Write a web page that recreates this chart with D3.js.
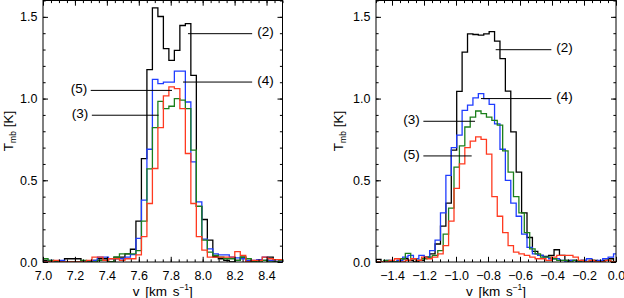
<!DOCTYPE html>
<html><head><meta charset="utf-8">
<script src="https://cdn.jsdelivr.net/npm/d3@7"></script>
<style>
body{margin:0;background:#fff;}
svg text{font-family:"Liberation Sans",Arial,Helvetica,sans-serif;fill:#000;}
</style></head><body>
<svg id="c" width="624" height="298"></svg>
<script>
// ---------- DATA ----------
// Left panel: channel centres (km/s)
const velLeft = [6.9800,7.0144,7.0488,7.0832,7.1176,7.1520,7.1864,7.2208,7.2552,7.2896,7.3240,7.3584,7.3928,7.4272,7.4616,7.4960,7.5304,7.5648,7.5992,7.6336,7.6680,7.7024,7.7368,7.7712,7.8056,7.8400,7.8744,7.9088,7.9432,7.9776,8.0120,8.0464,8.0808,8.1152,8.1496,8.1840,8.2184,8.2528,8.2872,8.3216,8.3560,8.3904,8.4248,8.4592,8.4936,8.5280];
const leftT2 = [0.01,0.01,0.0,0.0,0.0,0.02,0.02,0.02,0.0,0.0,0.01,0.02,0.02,0.0,0.03,0.03,0.05,0.078,0.25,0.633,1.177,1.555,1.502,1.305,1.234,1.295,1.447,1.458,1.142,0.34,0.26,0.134,0.032,0.02,0.01,0.0,0.01,0.03,0.0,0.0,0.01,0.01,0.03,0.0,0.01,0.01];
const leftT4 = [0.0,0.0,0.01,0.0,0.01,0.0,0.0,0.0,0.0,0.0,0.01,0.03,0.03,0.02,0.02,0.02,0.03,0.045,0.145,0.379,0.69,1.118,1.091,1.10,1.10,1.168,1.168,0.979,0.613,0.368,0.14,0.08,0.05,0.043,0.043,0.03,0.025,0.02,0.01,0.01,0.015,0.03,0.01,0.005,0.0,0.0];
const leftT3 = [0.02,0.02,0.01,0.0,0.0,0.0,0.0,0.0,0.01,0.0,0.0,0.01,0.01,0.0,0.03,0.05,0.05,0.05,0.07,0.25,0.57,0.822,0.983,0.938,0.953,1.0,0.99,0.938,0.684,0.34,0.134,0.06,0.04,0.03,0.02,0.02,0.01,0.03,0.02,0.0,0.0,0.01,0.0,0.0,0.01,0.0];
const leftT5 = [0.0,0.0,0.0,0.01,0.0,0.0,0.0,0.0,0.0,0.01,0.03,0.03,0.01,0.02,0.02,0.01,0.02,0.02,0.043,0.155,0.358,0.572,0.822,1.016,1.071,1.061,0.939,0.664,0.358,0.155,0.073,0.03,0.03,0.03,0.03,0.03,0.063,0.04,0.0,0.01,0.01,0.03,0.02,0.015,0.015,0.01];

// Right panel: channel centres (km/s); grid A for (2),(4); grid B for (3),(5)
const velRightA = [-1.5195,-1.4857,-1.4519,-1.4181,-1.3843,-1.3505,-1.3167,-1.2829,-1.2491,-1.2153,-1.1815,-1.1477,-1.1139,-1.0801,-1.0463,-1.0125,-0.9787,-0.9449,-0.9111,-0.8773,-0.8435,-0.8097,-0.7759,-0.7421,-0.7083,-0.6745,-0.6407,-0.6069,-0.5731,-0.5393,-0.5055,-0.4717,-0.4379,-0.4041,-0.3703,-0.3365,-0.3027,-0.2689,-0.2351,-0.2013,-0.1675,-0.1337,-0.0999,-0.0661,-0.0323,0.0015];
const velRightB = [-1.5026,-1.4688,-1.4350,-1.4012,-1.3674,-1.3336,-1.2998,-1.2660,-1.2322,-1.1984,-1.1646,-1.1308,-1.0970,-1.0632,-1.0294,-0.9956,-0.9618,-0.9280,-0.8942,-0.8604,-0.8266,-0.7928,-0.7590,-0.7252,-0.6914,-0.6576,-0.6238,-0.5900,-0.5562,-0.5224,-0.4886,-0.4548,-0.4210,-0.3872,-0.3534,-0.3196,-0.2858,-0.2520,-0.2182,-0.1844,-0.1506,-0.1168,-0.0830,-0.0492,-0.0154,0.0184];
const rightT2 = [0.01,0.016,0.0,0.0,0.0,0.01,0.02,0.01,0.0,0.01,0.03,0.05,0.11,0.22,0.36,0.684,1.044,1.284,1.396,1.392,1.388,1.396,1.41,1.351,1.244,1.046,0.796,0.55,0.30,0.15,0.065,0.04,0.035,0.04,0.075,0.04,0.01,0.01,0.0,0.01,0.0,0.01,0.0,0.01,0.02,0.0];
const rightT4 = [0.0,0.0,0.0,0.01,0.0,0.01,0.03,0.04,0.02,0.04,0.03,0.07,0.134,0.30,0.53,0.70,0.776,0.928,0.96,1.004,1.03,1.0,0.965,0.845,0.69,0.50,0.36,0.28,0.17,0.09,0.05,0.04,0.03,0.02,0.02,0.01,0.0,0.01,0.0,0.01,0.02,0.0,0.01,0.02,0.03,0.05];
const rightT3 = [0.0,0.0,0.01,0.0,0.0,0.02,0.053,0.02,0.01,0.02,0.03,0.04,0.07,0.17,0.33,0.58,0.71,0.826,0.887,0.924,0.908,0.887,0.867,0.837,0.68,0.55,0.40,0.30,0.18,0.08,0.05,0.03,0.03,0.02,0.01,0.01,0.0,0.01,0.0,0.0,0.01,0.0,0.0,0.01,0.0,0.0];
const rightT5 = [0.0,0.0,0.0,0.01,0.02,0.0,0.01,0.02,0.01,0.03,0.02,0.03,0.05,0.10,0.25,0.45,0.60,0.70,0.74,0.765,0.75,0.66,0.40,0.28,0.18,0.10,0.06,0.05,0.04,0.03,0.02,0.02,0.01,0.03,0.04,0.04,0.04,0.03,0.01,0.0,0.01,0.0,0.0,0.01,0.0,0.0];

// Tick values / labels
const leftXTicks = [7.0,7.2,7.4,7.6,7.8,8.0,8.2,8.4];
const rightXTicks = [-1.4,-1.2,-1.0,-0.8,-0.6,-0.4,-0.2,0.0];
const yTicks = [0.0,0.5,1.0,1.5];

// Annotations (label, line start v, line end v, line T, label side)
const leftNotes = [
  {label:"(2)", v1:7.908, v2:8.310, t:1.397, side:"right"},
  {label:"(4)", v1:7.877, v2:8.310, t:1.101, side:"right"},
  {label:"(5)", v1:7.299, v2:7.808, t:1.050, side:"left"},
  {label:"(3)", v1:7.306, v2:7.724, t:0.898, side:"left"}
];
const rightNotes = [
  {label:"(2)", v1:-0.752, v2:-0.404, t:1.299, side:"right"},
  {label:"(4)", v1:-0.844, v2:-0.404, t:1.000, side:"right"},
  {label:"(3)", v1:-1.204, v2:-0.881, t:0.861, side:"left"},
  {label:"(5)", v1:-1.204, v2:-0.902, t:0.649, side:"left"}
];

// ---------- STYLE / LAYOUT ----------
const colors = {"(2)":"#000000","(4)":"#1f3cff","(3)":"#1b7f1b","(5)":"#ff3a20"};
const plotTop = 0.5, plotBottom = 262;
const yDomain = [0, 1.6];

const panels = [
  {id:"L", x0:43, x1:282.5, xdom:[7.0,8.5], xticks:leftXTicks, minorStep:0.05, ytitleX:8,
   series:[{n:"(2)",v:velLeft,t:leftT2},{n:"(4)",v:velLeft,t:leftT4},{n:"(3)",v:velLeft,t:leftT3},{n:"(5)",v:velLeft,t:leftT5}],
   notes:leftNotes},
  {id:"R", x0:376, x1:616, xdom:[-1.5,0.0], xticks:rightXTicks, minorStep:0.05, ytitleX:338,
   series:[{n:"(2)",v:velRightA,t:rightT2},{n:"(4)",v:velRightA,t:rightT4},{n:"(3)",v:velRightB,t:rightT3},{n:"(5)",v:velRightB,t:rightT5}],
   notes:rightNotes}
];

const svg = d3.select("#c");
const fmt = d3.format(".1f");

panels.forEach(p => {
  const x = d3.scaleLinear().domain(p.xdom).range([p.x0, p.x1]);
  const y = d3.scaleLinear().domain(yDomain).range([plotBottom, plotTop]);
  const g = svg.append("g");

  svg.append("clipPath").attr("id","clip"+p.id)
    .append("rect").attr("x",p.x0).attr("y",plotTop).attr("width",p.x1-p.x0).attr("height",plotBottom-plotTop);

  const lg = g.append("g").attr("clip-path",`url(#clip${p.id})`);
  const line = d3.line().x(d=>x(d[0])).y(d=>y(d[1])).curve(d3.curveStep);
  p.series.forEach(s => {
    const pts = s.v.map((v,i)=>[v,s.t[i]]);
    lg.append("path").attr("d",line(pts)).attr("fill","none")
      .attr("stroke",colors[s.n]).attr("stroke-width",1.3).attr("stroke-linejoin","miter");
  });

  const xMinor = d3.range(Math.round(p.xdom[0]/p.minorStep), Math.round(p.xdom[1]/p.minorStep)+1).map(k=>k*p.minorStep);
  const yMinor = d3.range(0,17).map(k=>k*0.1);
  const styleAxis = a => { a.select(".domain").remove(); a.selectAll("line").attr("stroke","#000"); a.selectAll("text").attr("font-size",12.5).attr("font-family",null); };

  g.append("g").attr("transform",`translate(0,${plotBottom})`)
    .call(d3.axisBottom(x).tickValues(xMinor).tickSize(-2.6).tickFormat("")).call(styleAxis);
  g.append("g").attr("transform",`translate(0,${plotTop})`)
    .call(d3.axisTop(x).tickValues(xMinor).tickSize(-2.6).tickFormat("")).call(styleAxis);
  g.append("g").attr("transform",`translate(${p.x0},0)`)
    .call(d3.axisLeft(y).tickValues(yMinor).tickSize(-2.6).tickFormat("")).call(styleAxis);
  g.append("g").attr("transform",`translate(${p.x1},0)`)
    .call(d3.axisRight(y).tickValues(yMinor).tickSize(-2.6).tickFormat("")).call(styleAxis);

  g.append("g").attr("transform",`translate(0,${plotBottom})`)
    .call(d3.axisBottom(x).tickValues(p.xticks).tickSize(-5.2).tickPadding(9).tickFormat(fmt)).call(styleAxis);
  g.append("g").attr("transform",`translate(0,${plotTop})`)
    .call(d3.axisTop(x).tickValues(p.xticks).tickSize(-5.2).tickFormat("")).call(styleAxis);
  g.append("g").attr("transform",`translate(${p.x0},0)`)
    .call(d3.axisLeft(y).tickValues(yTicks).tickSize(-5).tickPadding(5.5).tickFormat(fmt)).call(styleAxis);
  g.append("g").attr("transform",`translate(${p.x1},0)`)
    .call(d3.axisRight(y).tickValues(yTicks).tickSize(-5).tickFormat("")).call(styleAxis);

  g.append("rect").attr("x",p.x0).attr("y",plotTop).attr("width",p.x1-p.x0).attr("height",plotBottom-plotTop)
    .attr("fill","none").attr("stroke","#000").attr("stroke-width",1);

  p.notes.forEach(nt => {
    const yy = y(nt.t);
    g.append("line").attr("x1",x(nt.v1)).attr("x2",x(nt.v2)).attr("y1",yy).attr("y2",yy)
      .attr("stroke","#000").attr("stroke-width",1);
    const tx = nt.side==="right" ? x(nt.v2)+5 : x(nt.v1)-3.5;
    g.append("text").attr("x",tx).attr("y",yy-2).attr("dy","0.35em")
      .attr("text-anchor", nt.side==="right" ? "start" : "end")
      .attr("font-size",13.5).text(nt.label);
  });

  const xt = g.append("text").attr("x",(p.x0+p.x1)/2).attr("y",295.5).attr("text-anchor","middle")
    .attr("font-size",13.5).attr("word-spacing",2);
  xt.append("tspan").text("v [km s");
  xt.append("tspan").attr("font-size",8.5).attr("dy",-5.5).text("\u22121");
  xt.append("tspan").attr("dy",5.5).text("]");

  const yt = g.append("text").attr("transform",`translate(${p.ytitleX},131) rotate(-90)`)
    .attr("text-anchor","middle").attr("dy","0.35em").attr("font-size",13.5);
  yt.append("tspan").text("T");
  yt.append("tspan").attr("font-size",8.5).attr("dy",3).text("mb");
  yt.append("tspan").attr("dy",-3).text(" [K]");
});
</script>
</body></html>
